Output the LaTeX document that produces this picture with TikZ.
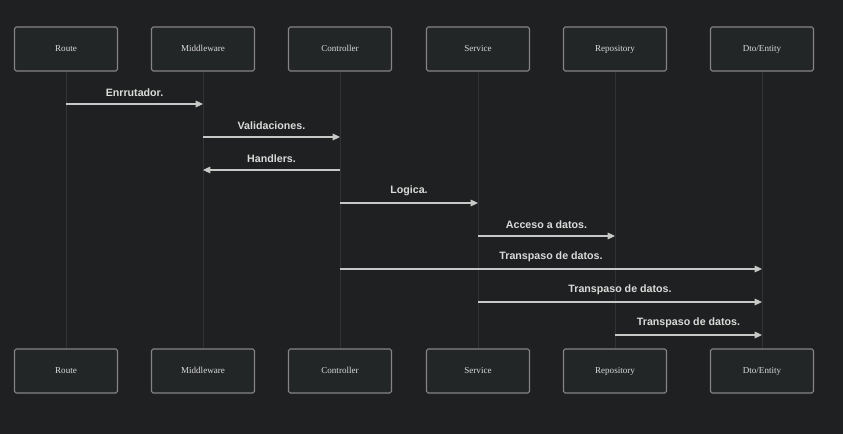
\documentclass[tikz,border=0pt]{standalone}
\usepackage{fontspec}
\setmainfont{Liberation Serif}
\setsansfont{Liberation Sans}
\usetikzlibrary{arrows.meta, positioning}

\definecolor{bgdark}{HTML}{1F2022}
\definecolor{boxfill}{HTML}{232627}
\definecolor{boxline}{HTML}{858483}
\definecolor{lifeln}{HTML}{313437}
\definecolor{msgln}{HTML}{C8C8C6}
\definecolor{txtlight}{HTML}{DADAD8}

\tikzset{
  actor/.style={draw=boxline, fill=boxfill, rounded corners=1.2pt, line width=0.8pt,
    minimum width=103*0.75pt, minimum height=44*0.75pt, inner sep=0pt,
    text height=5pt, text depth=1.5pt,
    text=txtlight, font=\fontsize{6.8}{8}\selectfont},
  life/.style={draw=lifeln, line width=0.6pt},
  msg/.style={draw=msgln, line width=0.8pt, -{Triangle[length=5.5pt, width=5pt]}},
  msglabel/.style={text=txtlight, font=\sffamily\bfseries\fontsize{8}{9}\selectfont}
}

\begin{document}
\begin{tikzpicture}[x=0.75pt, y=-0.75pt]
  % fondo
  \fill[bgdark] (0,0) rectangle (843,434);
  \useasboundingbox (0,0) rectangle (843,434);

  % participantes (arriba y abajo)
  \foreach \name/\x/\txt in {rt/66/Route, mw/203/Middleware, ctl/340/Controller,
                             svc/478/Service, repo/615/Repository, dto/762/{Dto/Entity}} {
    \node[actor] (\name) at (\x,49) {\txt};
    \node[actor] (\name B) at (\x,371) {\txt};
    \draw[life] (\name.south) -- (\name B.north);
  }

  % mensajes
  \draw[msg] (rt |- 0,104) -- node[msglabel, above=2pt] {Enrrutador.} (mw |- 0,104);
  \draw[msg] (mw |- 0,137) -- node[msglabel, above=2pt] {Validaciones.} (ctl |- 0,137);
  \draw[msg] (ctl |- 0,170) -- node[msglabel, above=2pt] {Handlers.} (mw |- 0,170);
  \draw[msg] (ctl |- 0,203) -- node[msglabel, above=2pt] {Logica.} (svc |- 0,203);
  \draw[msg] (svc |- 0,236) -- node[msglabel, above=2pt] {Acceso a datos.} (repo |- 0,236);
  \draw[msg] (ctl |- 0,269) -- node[msglabel, above=2pt] {Transpaso de datos.} (dto |- 0,269);
  \draw[msg] (svc |- 0,302) -- node[msglabel, above=2pt] {Transpaso de datos.} (dto |- 0,302);
  \draw[msg] (repo |- 0,335) -- node[msglabel, above=2pt] {Transpaso de datos.} (dto |- 0,335);
\end{tikzpicture}
\end{document}
